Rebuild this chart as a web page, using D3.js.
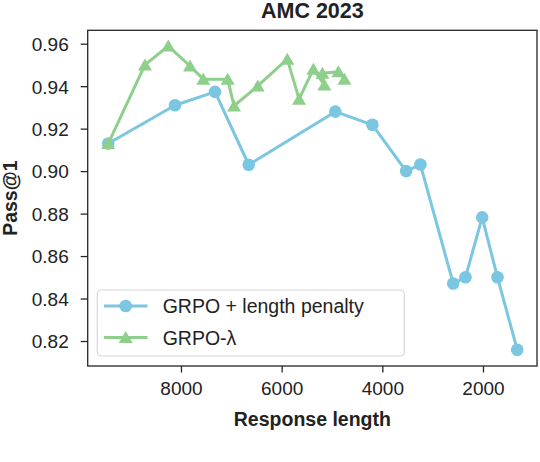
<!DOCTYPE html>
<html>
<head>
<meta charset="utf-8">
<script src="https://cdn.jsdelivr.net/npm/d3@7"></script>
<style>
  html, body { margin: 0; padding: 0; background: #fff; }
  svg { display: block; font-family: "Liberation Sans", Arial, Helvetica, sans-serif; }
</style>
</head>
<body>
<svg id="chart" width="540" height="462"></svg>
<script>
// ---- data ----
const seriesNames = ["GRPO + length penalty", "GRPO-λ"];
const penaltyLength = [9445, 8119, 7324, 6654, 4934, 4197, 3527, 3243, 2592, 2348, 2016, 1712, 1320];
const penaltyPass   = [0.913, 0.931, 0.9373, 0.903, 0.928, 0.9218, 0.900, 0.9031, 0.8471, 0.850, 0.8782, 0.850, 0.8159];
const lambdaLength  = [9445, 8716, 8252, 7821, 7557, 7072, 6946, 6475, 5887, 5654, 5370, 5151, 5191, 4873, 4753];
const lambdaPass    = [0.913, 0.950, 0.9589, 0.9495, 0.9433, 0.9433, 0.9307, 0.9401, 0.9527, 0.9339, 0.948, 0.9406, 0.9461, 0.9468, 0.9433];
const xTicks = [8000, 6000, 4000, 2000];
const yTicks = [0.82, 0.84, 0.86, 0.88, 0.90, 0.92, 0.94, 0.96];

const colBlue = "#7bc6e0";
const colGreen = "#8ecf8b";
const axisCol = "#262626";

const svg = d3.select("#chart");
const L = 87.7, R = 537, T = 30.3, B = 366;

const x = d3.scaleLinear().domain([9853, 927]).range([L, R]);
const y = d3.scaleLinear().domain([0.80823, 0.96631]).range([B, T]);

// axes
const xAxis = d3.axisBottom(x).tickValues(xTicks).tickFormat(d3.format("d")).tickSize(6.5).tickPadding(8);
const yAxis = d3.axisLeft(y).tickValues(yTicks).tickFormat(d3.format(".2f")).tickSize(7).tickPadding(12);

const gx = svg.append("g").attr("transform", `translate(0,${B})`).call(xAxis);
const gy = svg.append("g").attr("transform", `translate(${L},0)`).call(yAxis);
[gx, gy].forEach(g => {
  g.select(".domain").remove();
  g.selectAll(".tick line").attr("stroke", axisCol).attr("stroke-width", 1.3);
  g.selectAll(".tick text").attr("fill", "#222").style("font-size", "19px")
    .style("font-family", '"Liberation Sans", Arial, sans-serif');
});
gy.selectAll(".tick text").attr("dy", "0.36em");
gx.selectAll(".tick text").attr("dy", "0.74em");

// frame
svg.append("rect").attr("x", L).attr("y", T).attr("width", R - L).attr("height", B - T)
  .attr("fill", "none").attr("stroke", axisCol).attr("stroke-width", 1.3);

// lines
const line = d3.line().x(d => x(d[0])).y(d => y(d[1]));
const penaltyData = penaltyLength.map((v, i) => [v, penaltyPass[i]]);
const lambdaData = lambdaLength.map((v, i) => [v, lambdaPass[i]]);

const triSym = d3.symbol().type(d3.symbolTriangle).size(100);

function drawSeries(data, color, marker) {
  svg.append("path").datum(data).attr("d", line).attr("fill", "none")
    .attr("stroke", color).attr("stroke-width", 3).attr("stroke-linejoin", "round");
  if (marker === "circle") {
    svg.append("g").selectAll("circle").data(data).join("circle")
      .attr("cx", d => x(d[0])).attr("cy", d => y(d[1])).attr("r", 6.3).attr("fill", color);
  } else {
    svg.append("g").selectAll("path").data(data).join("path")
      .attr("d", "M0,-6.5L7,5.5L-7,5.5Z")
      .attr("transform", d => `translate(${x(d[0])},${y(d[1])})`).attr("fill", color);
  }
}
drawSeries(penaltyData, colBlue, "circle");
drawSeries(lambdaData, colGreen, "triangle");

// title & labels
svg.append("text").attr("x", (L + R) / 2).attr("y", 17.5).attr("text-anchor", "middle")
  .style("font-size", "21.5px").style("font-weight", "bold").attr("fill", "#222").text("AMC 2023");
svg.append("text").attr("x", (L + R) / 2).attr("y", 425.5).attr("text-anchor", "middle")
  .style("font-size", "19.5px").style("font-weight", "bold").attr("fill", "#222").text("Response length");
svg.append("text").attr("transform", `translate(17,${(T + B) / 2}) rotate(-90)`).attr("text-anchor", "middle")
  .style("font-size", "19.5px").style("font-weight", "bold").attr("fill", "#222").text("Pass@1");

// legend
const lg = svg.append("g");
lg.append("rect").attr("x", 97.3).attr("y", 290).attr("width", 307).attr("height", 66)
  .attr("rx", 4).attr("fill", "#fff").attr("fill-opacity", 0.85).attr("stroke", "#d6d6d6").attr("stroke-width", 1.2);
const legendRows = [
  { name: seriesNames[0], color: colBlue, marker: "circle", yy: 306 },
  { name: seriesNames[1], color: colGreen, marker: "triangle", yy: 337.5 }
];
legendRows.forEach(r => {
  lg.append("line").attr("x1", 104).attr("x2", 147.5).attr("y1", r.yy).attr("y2", r.yy)
    .attr("stroke", r.color).attr("stroke-width", 3);
  if (r.marker === "circle") {
    lg.append("circle").attr("cx", 125.7).attr("cy", r.yy).attr("r", 6.3).attr("fill", r.color);
  } else {
    lg.append("path").attr("d", "M0,-6.5L7,5.5L-7,5.5Z").attr("transform", `translate(125.7,${r.yy})`).attr("fill", r.color);
  }
  lg.append("text").attr("x", 162.7).attr("y", r.yy).attr("dy", "0.36em")
    .style("font-size", "19.5px").attr("fill", "#222").text(r.name);
});
</script>
</body>
</html>
